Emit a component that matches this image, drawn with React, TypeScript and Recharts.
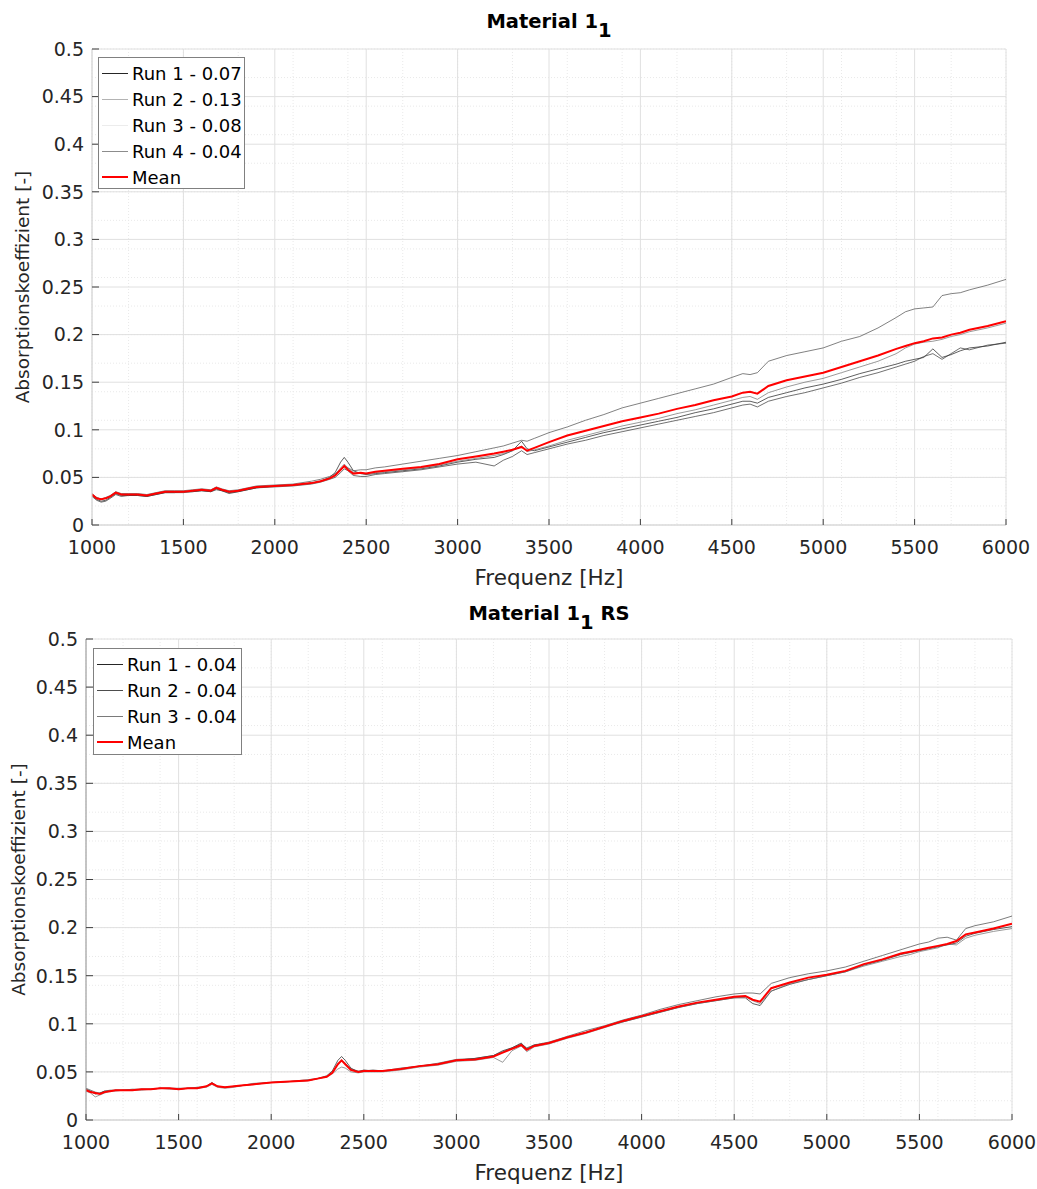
import React from 'react'
import { LineChart, Line, XAxis, YAxis, CartesianGrid, Legend } from 'recharts'

const FONT = '"DejaVu Sans", sans-serif'
const INK = '#262626'

// frequency points shared by both measurements
const FREQ = [
  1000, 1025, 1050, 1075, 1100, 1130, 1160, 1200, 1250, 1300,
  1350, 1400, 1450, 1500, 1550, 1600, 1650, 1680, 1710, 1750,
  1800, 1850, 1900, 2000, 2100, 2200, 2250, 2300, 2330, 2360,
  2380, 2400, 2430, 2470, 2500, 2550, 2600, 2700, 2800, 2900,
  3000, 3100, 3200, 3250, 3300, 3350, 3380, 3420, 3500, 3600,
  3700, 3800, 3900, 4000, 4100, 4200, 4300, 4400, 4500, 4560,
  4600, 4640, 4700, 4800, 4900, 5000, 5100, 5200, 5300, 5400,
  5450, 5500, 5550, 5600, 5650, 5700, 5750, 5800, 5900, 6000,
]

// Material 1_1
const TOP_RUN1 = [
  0.031, 0.027, 0.025, 0.026, 0.029, 0.033, 0.031, 0.031, 0.031, 0.030,
  0.032, 0.034, 0.034, 0.035, 0.035, 0.036, 0.035, 0.038, 0.036, 0.034,
  0.035, 0.037, 0.039, 0.041, 0.042, 0.044, 0.046, 0.050, 0.055, 0.066,
  0.071, 0.066, 0.057, 0.054, 0.053, 0.054, 0.055, 0.057, 0.059, 0.062,
  0.066, 0.069, 0.071, 0.074, 0.078, 0.088, 0.080, 0.078, 0.082, 0.087,
  0.092, 0.097, 0.101, 0.105, 0.109, 0.113, 0.118, 0.122, 0.127, 0.130,
  0.130, 0.128, 0.134, 0.139, 0.144, 0.148, 0.153, 0.159, 0.164, 0.169,
  0.172, 0.174, 0.176, 0.185, 0.176, 0.179, 0.183, 0.186, 0.188, 0.192,
]
const TOP_RUN2 = [
  0.033, 0.029, 0.027, 0.029, 0.031, 0.035, 0.033, 0.033, 0.033, 0.032,
  0.034, 0.036, 0.036, 0.036, 0.037, 0.038, 0.037, 0.040, 0.038, 0.036,
  0.037, 0.039, 0.041, 0.042, 0.043, 0.046, 0.048, 0.051, 0.054, 0.058,
  0.062, 0.060, 0.057, 0.058, 0.058, 0.060, 0.061, 0.064, 0.067, 0.070,
  0.073, 0.077, 0.081, 0.083, 0.086, 0.089, 0.088, 0.091, 0.097, 0.103,
  0.110, 0.116, 0.123, 0.128, 0.133, 0.138, 0.143, 0.148, 0.155, 0.159,
  0.158, 0.160, 0.172, 0.178, 0.182, 0.186, 0.193, 0.198, 0.207, 0.218,
  0.224, 0.227, 0.228, 0.229, 0.241, 0.243, 0.244, 0.247, 0.252, 0.258,
]
const TOP_RUN3 = [
  0.032, 0.029, 0.027, 0.028, 0.030, 0.033, 0.032, 0.032, 0.032, 0.031,
  0.033, 0.035, 0.035, 0.035, 0.036, 0.037, 0.036, 0.039, 0.037, 0.035,
  0.036, 0.038, 0.040, 0.041, 0.042, 0.044, 0.046, 0.049, 0.053, 0.060,
  0.064, 0.060, 0.055, 0.054, 0.054, 0.055, 0.056, 0.058, 0.060, 0.063,
  0.067, 0.070, 0.073, 0.075, 0.078, 0.083, 0.077, 0.079, 0.083, 0.089,
  0.094, 0.099, 0.104, 0.108, 0.112, 0.117, 0.121, 0.126, 0.131, 0.134,
  0.135, 0.132, 0.139, 0.145, 0.150, 0.154, 0.160, 0.166, 0.172, 0.180,
  0.186, 0.190, 0.192, 0.193, 0.195, 0.198, 0.200, 0.203, 0.207, 0.212,
]
const TOP_RUN4 = [
  0.030, 0.026, 0.024, 0.025, 0.028, 0.032, 0.030, 0.031, 0.031, 0.030,
  0.032, 0.034, 0.034, 0.034, 0.035, 0.036, 0.035, 0.037, 0.036, 0.033,
  0.035, 0.037, 0.039, 0.040, 0.041, 0.043, 0.045, 0.048, 0.050, 0.055,
  0.059, 0.057, 0.052, 0.051, 0.051, 0.053, 0.054, 0.056, 0.058, 0.061,
  0.064, 0.066, 0.062, 0.068, 0.072, 0.078, 0.074, 0.076, 0.080, 0.085,
  0.089, 0.094, 0.098, 0.102, 0.106, 0.110, 0.114, 0.118, 0.123, 0.126,
  0.127, 0.124, 0.130, 0.135, 0.139, 0.144, 0.149, 0.155, 0.160, 0.166,
  0.169, 0.172, 0.177, 0.180, 0.174, 0.180, 0.186, 0.184, 0.189, 0.191,
]
const TOP_MEAN = [
  0.032, 0.028, 0.027, 0.028, 0.030, 0.034, 0.032, 0.032, 0.032, 0.031,
  0.033, 0.035, 0.035, 0.035, 0.036, 0.037, 0.036, 0.039, 0.037, 0.035,
  0.036, 0.038, 0.040, 0.041, 0.042, 0.044, 0.046, 0.049, 0.052, 0.058,
  0.062, 0.058, 0.054, 0.055, 0.054, 0.056, 0.057, 0.059, 0.061, 0.064,
  0.069, 0.072, 0.075, 0.077, 0.079, 0.082, 0.078, 0.081, 0.087, 0.094,
  0.099, 0.104, 0.109, 0.113, 0.117, 0.122, 0.126, 0.131, 0.135, 0.139,
  0.140, 0.138, 0.146, 0.152, 0.156, 0.160, 0.166, 0.172, 0.178, 0.185,
  0.188, 0.191, 0.193, 0.196, 0.197, 0.200, 0.202, 0.205, 0.209, 0.214,
]

// Material 1_1 RS
const BOT_RUN1 = [
  0.032, 0.030, 0.027, 0.028, 0.030, 0.030, 0.031, 0.031, 0.031, 0.032,
  0.032, 0.033, 0.033, 0.032, 0.033, 0.033, 0.035, 0.039, 0.035, 0.034,
  0.035, 0.036, 0.037, 0.039, 0.040, 0.041, 0.043, 0.046, 0.051, 0.062,
  0.066, 0.062, 0.054, 0.050, 0.052, 0.051, 0.051, 0.053, 0.056, 0.058,
  0.062, 0.064, 0.067, 0.072, 0.075, 0.080, 0.074, 0.078, 0.080, 0.086,
  0.091, 0.097, 0.102, 0.107, 0.112, 0.117, 0.121, 0.124, 0.127, 0.127,
  0.121, 0.119, 0.134, 0.141, 0.146, 0.150, 0.154, 0.161, 0.166, 0.172,
  0.174, 0.176, 0.178, 0.180, 0.182, 0.184, 0.191, 0.194, 0.198, 0.201,
]
const BOT_RUN2 = [
  0.033, 0.031, 0.029, 0.028, 0.030, 0.031, 0.031, 0.031, 0.032, 0.032,
  0.032, 0.033, 0.033, 0.033, 0.033, 0.034, 0.035, 0.038, 0.035, 0.034,
  0.035, 0.036, 0.038, 0.039, 0.040, 0.042, 0.043, 0.045, 0.049, 0.058,
  0.062, 0.059, 0.053, 0.051, 0.051, 0.052, 0.051, 0.054, 0.056, 0.059,
  0.063, 0.064, 0.067, 0.071, 0.075, 0.079, 0.075, 0.078, 0.081, 0.087,
  0.093, 0.098, 0.104, 0.109, 0.115, 0.120, 0.124, 0.128, 0.131, 0.132,
  0.132, 0.131, 0.142, 0.148, 0.152, 0.155, 0.159, 0.165, 0.171, 0.177,
  0.180, 0.183, 0.185, 0.189, 0.190, 0.187, 0.199, 0.202, 0.206, 0.212,
]
const BOT_RUN3 = [
  0.030, 0.028, 0.024, 0.026, 0.028, 0.030, 0.030, 0.031, 0.031, 0.031,
  0.032, 0.033, 0.032, 0.032, 0.033, 0.033, 0.034, 0.037, 0.034, 0.033,
  0.034, 0.036, 0.037, 0.039, 0.040, 0.041, 0.043, 0.045, 0.048, 0.053,
  0.055, 0.054, 0.050, 0.049, 0.050, 0.050, 0.050, 0.052, 0.055, 0.057,
  0.061, 0.062, 0.065, 0.060, 0.072, 0.077, 0.071, 0.076, 0.079, 0.085,
  0.090, 0.096, 0.102, 0.107, 0.112, 0.117, 0.121, 0.124, 0.127, 0.128,
  0.124, 0.121, 0.134, 0.142, 0.146, 0.150, 0.154, 0.160, 0.165, 0.170,
  0.172, 0.175, 0.177, 0.179, 0.183, 0.182, 0.189, 0.192, 0.196, 0.199,
]
const BOT_MEAN = [
  0.031, 0.029, 0.028, 0.027, 0.029, 0.030, 0.031, 0.031, 0.031, 0.032,
  0.032, 0.033, 0.033, 0.032, 0.033, 0.033, 0.035, 0.038, 0.035, 0.034,
  0.035, 0.036, 0.037, 0.039, 0.040, 0.041, 0.043, 0.045, 0.049, 0.058,
  0.062, 0.058, 0.052, 0.050, 0.051, 0.051, 0.051, 0.053, 0.056, 0.058,
  0.062, 0.063, 0.066, 0.070, 0.074, 0.078, 0.073, 0.077, 0.080, 0.086,
  0.091, 0.097, 0.103, 0.108, 0.113, 0.118, 0.122, 0.125, 0.128, 0.129,
  0.125, 0.123, 0.137, 0.143, 0.148, 0.151, 0.155, 0.162, 0.167, 0.173,
  0.175, 0.177, 0.179, 0.181, 0.183, 0.186, 0.193, 0.195, 0.199, 0.204,
]

const TOP_LABELS = ['Run 1 - 0.07', 'Run 2 - 0.13', 'Run 3 - 0.08', 'Run 4 - 0.04', 'Mean']
const BOT_LABELS = ['Run 1 - 0.04', 'Run 2 - 0.04', 'Run 3 - 0.04', 'Mean']

const MAJOR_X = [1000, 1500, 2000, 2500, 3000, 3500, 4000, 4500, 5000, 5500, 6000]
const MINOR_X = [
  1000, 1100, 1200, 1300, 1400, 1500, 1600, 1700, 1800, 1900,
  2000, 2100, 2200, 2300, 2400, 2500, 2600, 2700, 2800, 2900,
  3000, 3100, 3200, 3300, 3400, 3500, 3600, 3700, 3800, 3900,
  4000, 4100, 4200, 4300, 4400, 4500, 4600, 4700, 4800, 4900,
  5000, 5100, 5200, 5300, 5400, 5500, 5600, 5700, 5800, 5900, 6000,
]
const MAJOR_Y = [0, 0.05, 0.1, 0.15, 0.2, 0.25, 0.3, 0.35, 0.4, 0.45, 0.5]
const MINOR_Y = [
  0, 0.01, 0.02, 0.03, 0.04, 0.05, 0.06, 0.07, 0.08, 0.09,
  0.1, 0.11, 0.12, 0.13, 0.14, 0.15, 0.16, 0.17, 0.18, 0.19,
  0.2, 0.21, 0.22, 0.23, 0.24, 0.25, 0.26, 0.27, 0.28, 0.29,
  0.3, 0.31, 0.32, 0.33, 0.34, 0.35, 0.36, 0.37, 0.38, 0.39,
  0.4, 0.41, 0.42, 0.43, 0.44, 0.45, 0.46, 0.47, 0.48, 0.49, 0.5,
]

const topData = FREQ.map((f, i) => ({
  f, r1: TOP_RUN1[i], r2: TOP_RUN2[i], r3: TOP_RUN3[i], r4: TOP_RUN4[i], mean: TOP_MEAN[i],
}))
const botData = FREQ.map((f, i) => ({
  f, r1: BOT_RUN1[i], r2: BOT_RUN2[i], r3: BOT_RUN3[i], mean: BOT_MEAN[i],
}))

const topLines = [
  { key: 'r1', stroke: '#1a1a1a', legend: '#262626', width: 0.7 },
  { key: 'r2', stroke: '#4a4a4a', legend: '#b3b3b3', width: 0.7 },
  { key: 'r3', stroke: '#6e6e6e', legend: '#ececec', width: 0.7 },
  { key: 'r4', stroke: '#333333', legend: '#8c8c8c', width: 0.7 },
  { key: 'mean', stroke: '#ff0000', legend: '#ff0000', width: 2 },
]
const botLines = [
  { key: 'r1', stroke: '#1a1a1a', legend: '#262626', width: 0.7 },
  { key: 'r2', stroke: '#444444', legend: '#4d4d4d', width: 0.7 },
  { key: 'r3', stroke: '#6e6e6e', legend: '#7a7a7a', width: 0.7 },
  { key: 'mean', stroke: '#ff0000', legend: '#ff0000', width: 2 },
]

const bottomTick = (p: any) => (
  <g>
    <line x1={p.x} x2={p.x} y1={p.y} y2={p.y - 6} stroke="#404040" />
    <text x={p.x} y={p.y + 29} textAnchor="middle" fontSize={19} fill={INK} fontFamily={FONT}>
      {p.payload.value}
    </text>
  </g>
)
const topTick = (p: any) => <line x1={p.x} x2={p.x} y1={p.y} y2={p.y + 6} stroke="#404040" />
const leftTick = (p: any) => (
  <g>
    <line x1={p.x} x2={p.x + 7} y1={p.y} y2={p.y} stroke="#404040" />
    <text x={p.x - 8} y={p.y} dy="0.36em" textAnchor="end" fontSize={19} fill={INK} fontFamily={FONT}>
      {p.payload.value}
    </text>
  </g>
)
const rightTick = (p: any) => <line x1={p.x} x2={p.x - 7} y1={p.y} y2={p.y} stroke="#404040" />

function LegendBox({ labels, lines, w, h }: any) {
  return (
    <div
      style={{
        width: w, height: h, boxSizing: 'border-box', border: '1px solid #808080', background: '#fff',
        paddingTop: 2, fontFamily: FONT, fontSize: 18, color: '#000',
      }}
    >
      {labels.map((t: string, i: number) => (
        <div key={t} style={{ display: 'flex', alignItems: 'center', height: 26 }}>
          <div style={{ marginLeft: 3, width: 26, borderTop: `${lines[i].width > 1 ? 2 : 1}px solid ${lines[i].legend}` }} />
          <span style={{ marginLeft: 4, whiteSpace: 'nowrap' }}>{t}</span>
        </div>
      ))}
    </div>
  )
}

function Panel({ data, lines, labels, height, margin, yAxisW, xAxisH, frame, yLabelOff, xLabelOff, legend }: any) {
  return (
    <LineChart width={1037} height={height} data={data} margin={margin}>
      <XAxis xAxisId="minor" dataKey="f" type="number" domain={[1000, 6000]} ticks={MINOR_X} hide allowDataOverflow />
      <YAxis yAxisId="minor" type="number" domain={[0, 0.5]} ticks={MINOR_Y} hide allowDataOverflow />
      <CartesianGrid xAxisId="minor" yAxisId="minor" stroke="#e9e9e9" strokeDasharray="1 2" />
      <CartesianGrid stroke="#e0e0e0" />
      <XAxis
        dataKey="f" type="number" domain={[1000, 6000]} ticks={MAJOR_X} interval={0} allowDataOverflow
        height={xAxisH} tickSize={0} tickMargin={0} tickLine={false} tick={bottomTick}
        axisLine={{ stroke: frame.bottom }}
        label={{ value: 'Frequenz [Hz]', position: 'insideBottom', offset: xLabelOff, fontSize: 21.5, fill: INK, fontFamily: FONT }}
      />
      <XAxis
        xAxisId="top" orientation="top" dataKey="f" type="number" domain={[1000, 6000]} ticks={MAJOR_X}
        interval={0} allowDataOverflow height={0} tickSize={0} tickMargin={0} tickLine={false} tick={topTick}
        axisLine={{ stroke: frame.top }}
      />
      <YAxis
        type="number" domain={[0, 0.5]} ticks={MAJOR_Y} interval={0} allowDataOverflow width={yAxisW}
        tickSize={0} tickMargin={0} tickLine={false} tick={leftTick} axisLine={{ stroke: frame.left }}
        label={{
          value: 'Absorptionskoeffizient [-]', angle: -90, position: 'insideLeft', offset: yLabelOff,
          fontSize: 18.5, fill: INK, fontFamily: FONT, style: { textAnchor: 'middle' },
        }}
      />
      <YAxis
        yAxisId="right" orientation="right" type="number" domain={[0, 0.5]} ticks={MAJOR_Y} interval={0}
        allowDataOverflow width={0} tickSize={0} tickMargin={0} tickLine={false} tick={rightTick}
        axisLine={{ stroke: frame.right }}
      />
      {lines.map((l: any) => (
        <Line
          key={l.key} dataKey={l.key} type="linear" stroke={l.stroke} strokeWidth={l.width}
          dot={false} activeDot={false} isAnimationActive={false}
        />
      ))}
      <Legend
        layout="vertical" align="center" verticalAlign="middle"
        wrapperStyle={{ left: legend.left, top: legend.top, width: legend.w, height: legend.h }}
        content={() => <LegendBox labels={labels} lines={lines} w={legend.w} h={legend.h} />}
      />
    </LineChart>
  )
}

function Title({ top, children }: any) {
  return (
    <div
      style={{
        position: 'absolute', left: 92, width: 914, top, textAlign: 'center', fontFamily: FONT,
        fontWeight: 'bold', fontSize: 19.5, lineHeight: '22px', color: '#000', whiteSpace: 'nowrap',
      }}
    >
      {children}
    </div>
  )
}

export default function App() {
  return (
    <div style={{ position: 'absolute', left: 0, top: 0, width: 1037, height: 1189, background: '#fff' }}>
      <div style={{ position: 'absolute', left: 0, top: 0 }}>
        <Panel
          data={topData} lines={topLines} labels={TOP_LABELS} height={600}
          margin={{ top: 49, right: 31, left: 0, bottom: 0 }} yAxisW={92} xAxisH={75}
          frame={{ left: '#d6d6d6', bottom: '#d6d6d6', top: '#d6d6d6', right: '#333333' }}
          yLabelOff={22} xLabelOff={15}
          legend={{ left: 98, top: 57, w: 147, h: 132 }}
        />
      </div>
      <div style={{ position: 'absolute', left: 0, top: 600 }}>
        <Panel
          data={botData} lines={botLines} labels={BOT_LABELS} height={589}
          margin={{ top: 39, right: 25, left: 0, bottom: 0 }} yAxisW={86} xAxisH={69}
          frame={{ left: '#9a9a9a', bottom: '#d0d0d0', top: '#9a9a9a', right: '#d0d0d0' }}
          yLabelOff={18} xLabelOff={9}
          legend={{ left: 93, top: 48, w: 149, h: 107 }}
        />
      </div>
      <Title top={11}>
        Material 1<span style={{ position: 'relative', top: 9 }}>1</span>
      </Title>
      <Title top={603}>
        Material 1<span style={{ position: 'relative', top: 9 }}>1</span> RS
      </Title>
    </div>
  )
}
